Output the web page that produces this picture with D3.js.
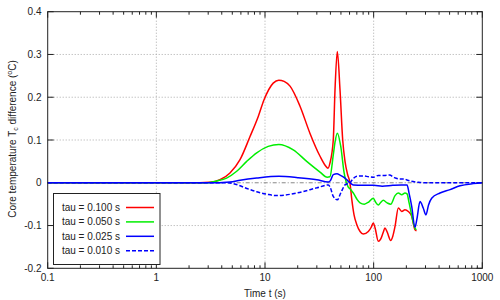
<!DOCTYPE html>
<html><head><meta charset="utf-8">
<script src="https://cdn.jsdelivr.net/npm/d3@7"></script>
<style>body{margin:0;background:#fff}svg{display:block}text{font-family:"Liberation Sans",Arial,sans-serif;fill:#222}</style>
</head><body>
<svg id="c" width="500" height="300"></svg>
<script>
const xTicks = [0.1, 1, 10, 100, 1000];
const xTickLabels = ["0.1", "1", "10", "100", "1000"];
const yTicks = [-0.2, -0.1, 0, 0.1, 0.2, 0.3, 0.4];
const yTickLabels = ["-0.2", "-0.1", "0", "0.1", "0.2", "0.3", "0.4"];
const seriesNames = ["tau = 0.100 s", "tau = 0.050 s", "tau = 0.025 s", "tau = 0.010 s"];
const seriesColors = ["#ff0000", "#00ee00", "#0000ff", "#0000ff"];

const tau100 = [[0.1,0],[2.5,0],[3.1,0.001],[3.85,0.007],[4.76,0.023],[5.89,0.054],[7.28,0.108],[8.67,0.155],[9.8,0.194],[11.9,0.233],[13.4,0.240],[15,0.237],[17,0.226],[21,0.179],[25.9,0.116],[32.1,0.062],[36,0.040],[38,0.034],[39.6,0.046],[42.5,0.10],[44.1,0.218],[46.3,0.307],[49,0.218],[51.9,0.10],[54.5,0.050],[57.5,0.020],[60.5,0],[63,-0.04],[66,-0.075],[70,-0.098],[75,-0.114],[80.3,-0.120],[89.3,-0.114],[95,-0.104],[99.3,-0.094],[103,-0.105],[110.4,-0.137],[116,-0.132],[122.8,-0.115],[127,-0.106],[133,-0.115],[143.6,-0.135],[150,-0.125],[157.3,-0.102],[168.7,-0.059],[181.3,-0.067],[194.3,-0.063],[208.5,-0.067],[224,-0.078],[240.3,-0.110],[248,-0.112]];
const tau050 = [[0.1,0],[3,0],[3.59,0.004],[4.43,0.011],[5.49,0.027],[6.79,0.050],[8.39,0.070],[10.7,0.085],[13.4,0.0897],[18.2,0.077],[24.2,0.050],[32.1,0.025],[37.4,0.013],[39.6,0.014],[42.5,0.065],[44.1,0.095],[46.3,0.116],[49.8,0.085],[53.5,0.023],[58.4,-0.010],[60.5,-0.014],[65,-0.024],[70,-0.038],[75,-0.047],[82,-0.050],[90,-0.045],[99.3,-0.036],[104,-0.045],[110.4,-0.052],[116,-0.046],[122.8,-0.041],[133,-0.047],[143.6,-0.050],[157.3,-0.030],[168.7,-0.024],[181.3,-0.028],[194.3,-0.024],[203,-0.026],[212,-0.047],[240,-0.106],[247,-0.11]];
const tau025 = [[0.1,0],[3,0],[4.76,0.002],[5.89,0.006],[8.39,0.011],[13.4,0.015],[20,0.012],[30,0.007],[38.3,0.002],[40,0.005],[42.5,0.019],[46,0.021],[49,0.018],[54.5,0.011],[60.5,0],[65,-0.005],[80,-0.006],[100,-0.006],[120,-0.008],[150,-0.006],[180,-0.005],[203,-0.005],[212,-0.025],[224,-0.055],[240,-0.104],[250,-0.085],[267,-0.044],[286,-0.059],[303,-0.075],[320,-0.052],[342,-0.036],[408,-0.024],[505,-0.016],[624,-0.007],[827,-0.002],[1000,0]];
const tau010 = [[0.1,0],[4.5,0],[5.89,-0.007],[6.3,-0.010],[8.39,-0.021],[10.5,-0.027],[12.8,-0.030],[15,-0.029],[19.6,-0.024],[29.9,-0.012],[38.3,-0.005],[40,-0.012],[42.5,-0.032],[46.3,-0.040],[49.8,-0.024],[54.5,-0.005],[60.5,0],[65,0.010],[70,0.015],[80,0.016],[90,0.014],[100,0.013],[110,0.017],[125,0.017],[140,0.018],[155,0.012],[175,0.009],[190,0.009],[205,0.006],[230,0.003],[260,0.001],[300,0],[1000,0]];
const allSeries = [tau100, tau050, tau025, tau010];

const L = 47.7, R = 482.3, T = 11.7, B = 268.3;
const svg = d3.select("#c");
const x = d3.scaleLog().domain([0.1, 1000]).range([L, R]);
const y = d3.scaleLinear().domain([-0.2, 0.4]).range([B, T]);

// grid
const g = svg.append("g");
xTicks.slice(1, -1).forEach(v => g.append("line").attr("x1", x(v)).attr("x2", x(v)).attr("y1", T).attr("y2", B)
  .attr("stroke", "#aaa").attr("stroke-width", 1).attr("stroke-dasharray", "1,2"));
yTicks.slice(1, -1).forEach(v => g.append("line").attr("x1", L).attr("x2", R).attr("y1", y(v)).attr("y2", y(v))
  .attr("stroke", v === 0 ? "#888" : "#aaa").attr("stroke-width", 1).attr("stroke-dasharray", v === 0 ? "4,2,1,2" : "1,2"));

// axes (ticks inward, mirrored)
const minorX = [];
for (let d = 0.1; d < 1000; d *= 10) for (let k = 2; k <= 9; k++) minorX.push(d * k);
const ax = svg.append("g");
function tk(x1, y1, x2, y2) { ax.append("line").attr("x1", x1).attr("y1", y1).attr("x2", x2).attr("y2", y2).attr("stroke", "#222").attr("stroke-width", 1); }
xTicks.forEach(v => { tk(x(v), B, x(v), B - 6); tk(x(v), T, x(v), T + 6); });
minorX.forEach(v => { tk(x(v), B, x(v), B - 3); tk(x(v), T, x(v), T + 3); });
yTicks.forEach(v => { tk(L, y(v), L + 6, y(v)); tk(R, y(v), R - 6, y(v)); });

xTicks.forEach((v, i) => svg.append("text").attr("x", x(v)).attr("y", 281).attr("text-anchor", "middle").attr("font-size", 10).text(xTickLabels[i]));
yTicks.forEach((v, i) => svg.append("text").attr("x", 41.5).attr("y", y(v) + 3.5).attr("text-anchor", "end").attr("font-size", 10).text(yTickLabels[i]));

// curves
const line = d3.line().x(d => x(d[0])).y(d => y(d[1])).curve(d3.curveMonotoneX);
const cg = svg.append("g");
allSeries.forEach((s, i) => cg.append("path").datum(s).attr("d", line).attr("fill", "none")
  .attr("stroke", seriesColors[i]).attr("stroke-width", 1.5).attr("stroke-linejoin", "round")
  .attr("stroke-dasharray", i === 3 ? "4,2" : null));

svg.append("rect").attr("x", L).attr("y", T).attr("width", R - L).attr("height", B - T).attr("fill", "none").attr("stroke", "#222").attr("stroke-width", 1);

// legend
const lg = svg.append("g");
lg.append("rect").attr("x", 53.5).attr("y", 193.5).attr("width", 106.5).attr("height", 71).attr("fill", "#fff").attr("stroke", "#222").attr("stroke-width", 1);
seriesNames.forEach((n, i) => {
  const yy = 207.5 + i * 14.4;
  lg.append("text").attr("x", 120).attr("y", yy + 3.5).attr("text-anchor", "end").attr("font-size", 10).text(n);
  lg.append("line").attr("x1", 126).attr("x2", 154).attr("y1", yy).attr("y2", yy).attr("stroke", seriesColors[i]).attr("stroke-width", 1.5)
    .attr("stroke-dasharray", i === 3 ? "4,2" : null);
});

// axis titles
svg.append("text").attr("x", 265).attr("y", 297).attr("text-anchor", "middle").attr("font-size", 10).text("Time t (s)");
const yl = svg.append("text").attr("transform", "translate(15.5,139) rotate(-90)").attr("text-anchor", "middle").attr("font-size", 10);
yl.append("tspan").text("Core temperature T");
yl.append("tspan").attr("font-size", 7).attr("dy", 2.5).text("c");
yl.append("tspan").attr("dy", -2.5).text(" difference  (");
yl.append("tspan").attr("font-size", 7).attr("dy", -4).text("o");
yl.append("tspan").attr("dy", 4).text("C)");
const w = yl.node().getComputedTextLength();
if (w > 158) yl.attr("textLength", 158).attr("lengthAdjust", "spacingAndGlyphs");
</script>
</body></html>
